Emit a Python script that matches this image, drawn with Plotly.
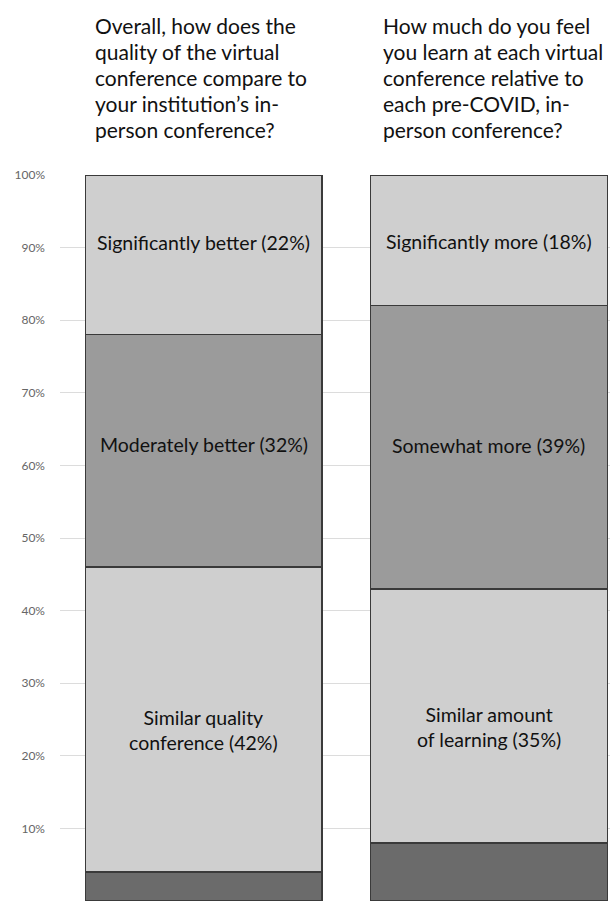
import plotly.graph_objects as go

categories = ["Quality", "Learning"]
title_lines = [
    ["Overall, how does the", "quality of the virtual", "conference compare to",
     "your institution’s in-", "person conference?"],
    ["How much do you feel", "you learn at each virtual", "conference relative to",
     "each pre-COVID, in-", "person conference?"],
]
# segments from bottom to top
seg_bottom = [4, 8]
seg_similar = [42, 35]
seg_middle = [32, 39]
seg_top = [22, 18]
labels_similar = ["Similar quality<br>conference (42%)", "Similar amount<br>of learning (35%)"]
labels_middle = ["Moderately better (32%)", "Somewhat more (39%)"]
labels_top = ["Significantly better (22%)", "Significantly more (18%)"]
tick_vals = [0, 10, 20, 30, 40, 50, 60, 70, 80, 90, 100]
tick_text = [f"{v}%" for v in tick_vals]

xs = [0, 1]
bar_w = 0.83
font_fam = "Lato, 'Open Sans', sans-serif"

fig = go.Figure()
segments = [
    (seg_bottom, None, "#6b6b6b", [0, 0]),
    (seg_similar, labels_similar, "#cfcfcf", [-10, -11]),
    (seg_middle, labels_middle, "#9b9b9b", [6, 2]),
    (seg_top, labels_top, "#cfcfcf", [12, -1]),
]
base = [0, 0]
for vals, labs, col, shifts in segments:
    fig.add_trace(go.Bar(
        x=xs, y=vals, width=bar_w,
        marker=dict(color=col, line=dict(color="#3a3a3a", width=1.5)),
        hoverinfo="skip", showlegend=False,
    ))
    if labs:
        for i in range(len(xs)):
            fig.add_annotation(
                x=xs[i], y=base[i] + vals[i] / 2, xref="x", yref="y",
                yshift=shifts[i], text=labs[i], showarrow=False, align="center",
                font=dict(family=font_fam, size=19.5, color="#111111"),
            )
    base = [b + v for b, v in zip(base, vals)]

line_gap = 26
for i, lines in enumerate(title_lines):
    for j, ln in enumerate(lines):
        fig.add_annotation(
            x=xs[i] - bar_w / 2, xref="x", xanchor="left", xshift=8 + 2 * i,
            y=1.0, yref="paper", yshift=150 - line_gap * j, yanchor="middle",
            text=ln, showarrow=False, align="left",
            font=dict(family=font_fam, size=21, color="#111111"),
        )

fig.update_layout(
    barmode="stack",
    width=610, height=905,
    margin=dict(l=60, r=0, t=175, b=4),
    paper_bgcolor="white", plot_bgcolor="white",
    xaxis=dict(range=[-0.5035, 1.4246], showticklabels=False, showgrid=False,
               zeroline=False, showline=False),
    yaxis=dict(range=[0, 100], tickvals=tick_vals, ticktext=tick_text,
               showgrid=True, gridcolor="#dcdcdc", gridwidth=1, zeroline=False,
               showline=False, ticklabelstandoff=14,
               tickfont=dict(family=font_fam, size=12, color="#666666")),
)

fig.write_html(
    "out.html",
    config={"displayModeBar": False},
    post_script="document.body.style.margin='0';document.body.style.overflow='hidden';",
)
